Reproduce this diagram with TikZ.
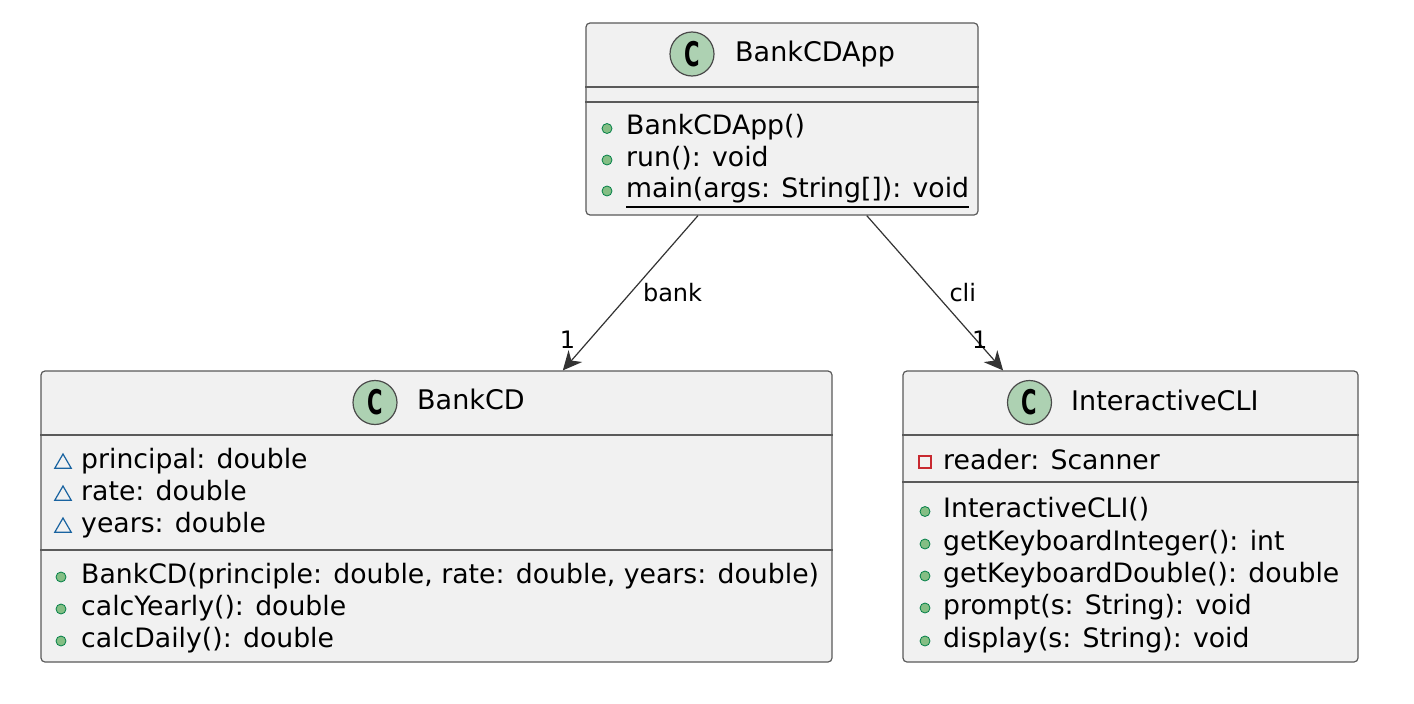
\documentclass[tikz,border=0pt]{standalone}
\usepackage{fontspec}
\setmainfont{DejaVu Sans}
\usetikzlibrary{calc,arrows.meta,shapes.geometric}

\definecolor{boxfill}{HTML}{F1F1F1}
\definecolor{boxline}{HTML}{5A5A5A}
\definecolor{spotfill}{HTML}{ADD1B2}
\definecolor{spotline}{HTML}{4A4A4A}
\definecolor{pubfill}{HTML}{84BE84}
\definecolor{publine}{HTML}{038048}
\definecolor{pkgline}{HTML}{1963A0}
\definecolor{privline}{HTML}{C82930}

\begin{document}
\begin{tikzpicture}[x=1pt,y=-1pt]
    \tikzstyle{classbox} = [rectangle,draw=boxline,fill=boxfill,line width=1.2pt,
    rounded corners=4pt,inner sep=0pt];
    \tikzstyle{divider} = [draw=boxline,line width=1.2pt];
    \tikzstyle{spot} = [circle,draw=spotline,fill=spotfill,line width=1.2pt,
    minimum size=44pt,inner sep=0pt,font=\fontsize{34}{34}\selectfont\bfseries];
    \tikzstyle{classname} = [anchor=base west,inner sep=0pt,font=\fontsize{27}{32}\selectfont];
    \tikzstyle{member} = [anchor=base west,inner sep=0pt,font=\fontsize{26.7}{32}\selectfont];
    \tikzstyle{pub} = [circle,draw=publine,fill=pubfill,line width=0.8pt,minimum size=10pt,inner sep=0pt];
    \tikzstyle{pkg} = [regular polygon,regular polygon sides=3,draw=pkgline,line width=1.2pt,
    minimum size=19pt,inner sep=0pt];
    \tikzstyle{priv} = [rectangle,draw=privline,line width=1.2pt,minimum size=12pt,inner sep=0pt];
    \tikzstyle{assoc} = [draw=black!80,line width=1.2pt,-{Stealth[length=19pt,width=18pt,inset=6pt]}];
    \tikzstyle{rolelabel} = [font=\fontsize{24}{24}\selectfont,inner sep=0pt];

    \useasboundingbox[fill=white] (0,0) rectangle (1414,704);

    % BankCDApp
    \node[classbox,name=bankcdapp,minimum width=392pt,minimum height=192pt] at (782,119) {};
    \node[spot,name=appspot] at (692,54) {\scalebox{0.62}[1]{C}};
    \node[classname,name=apptitle] at (735,61.7) {BankCDApp};
    \draw[divider] (bankcdapp.west |- 0,87) -- (bankcdapp.east |- 0,87);
    \draw[divider] (bankcdapp.west |- 0,102) -- (bankcdapp.east |- 0,102);
    \node[pub,name=appctoricon] at (607,128.5) {};
    \node[member,name=appctor] at (626,134.5) {BankCDApp()};
    \node[pub,name=appranicon] at (607,160) {};
    \node[member,name=apprun] at (626,166) {run(): void};
    \node[pub,name=appmainicon] at (607,191) {};
    \node[member,name=appmain] at (626,197) {main(args: String[]): void};
    \draw[line width=1.2pt] ($(appmain.base west)+(0,10)$) -- ($(appmain.base east)+(0,10)$);

    % BankCD
    \node[classbox,name=bankcd,minimum width=791pt,minimum height=291pt] at (436.5,516.5) {};
    \node[spot,name=bcspot] at (375,402.5) {\scalebox{0.62}[1]{C}};
    \node[classname,name=bctitle] at (417,409.7) {BankCD};
    \draw[divider] (bankcd.west |- 0,435) -- (bankcd.east |- 0,435);
    \draw[divider] (bankcd.west |- 0,550) -- (bankcd.east |- 0,550);
    \node[pkg,name=bcprincipalicon] at (63,463.5) {};
    \node[member,name=bcprincipal] at (81,468) {principal: double};
    \node[pkg,name=bcrateicon] at (63,495.5) {};
    \node[member,name=bcrate] at (81,500) {rate: double};
    \node[pkg,name=bcyearsicon] at (63,527.5) {};
    \node[member,name=bcyears] at (81,532) {years: double};
    \node[pub,name=bcctoricon] at (61,577) {};
    \node[member,name=bcctor] at (81,583) {BankCD(principle: double, rate: double, years: double)};
    \node[pub,name=bcyearlyicon] at (61,609) {};
    \node[member,name=bcyearly] at (81,615) {calcYearly(): double};
    \node[pub,name=bcdailyicon] at (61,641) {};
    \node[member,name=bcdaily] at (81,647) {calcDaily(): double};

    % InteractiveCLI
    \node[classbox,name=cli,minimum width=455pt,minimum height=291pt] at (1130.5,516.5) {};
    \node[spot,name=clispot] at (1029.5,402.5) {\scalebox{0.62}[1]{C}};
    \node[classname,name=clititle] at (1071,410) {InteractiveCLI};
    \draw[divider] (cli.west |- 0,435) -- (cli.east |- 0,435);
    \draw[divider] (cli.west |- 0,482) -- (cli.east |- 0,482);
    \node[priv,name=clireadericon] at (925,462) {};
    \node[member,name=clireader] at (943,469) {reader: Scanner};
    \node[pub,name=clictoricon] at (925,511.5) {};
    \node[member,name=clictor] at (943,517.5) {InteractiveCLI()};
    \node[pub,name=cliinticon] at (925,544) {};
    \node[member,name=cliint] at (943,550) {getKeyboardInteger(): int};
    \node[pub,name=clidoubleicon] at (925,576) {};
    \node[member,name=clidouble] at (943,582) {getKeyboardDouble(): double};
    \node[pub,name=clipprompticon] at (925,608) {};
    \node[member,name=cliprompt] at (943,614) {prompt(s: String): void};
    \node[pub,name=clidisplayicon] at (925,641) {};
    \node[member,name=clidisplay] at (943,647) {display(s: String): void};

    \path (bankcdapp) edge[assoc]
    node[rolelabel,pos=0.5,anchor=west,xshift=12pt] {bank}
    node[rolelabel,pos=0.8,anchor=east,xshift=-14pt] {1} (bankcd);
    \path (bankcdapp) edge[assoc]
    node[rolelabel,pos=0.5,anchor=west,xshift=14pt] {cli}
    node[rolelabel,pos=0.8,xshift=4pt] {1} (cli);

  \end{tikzpicture}
\end{document}
